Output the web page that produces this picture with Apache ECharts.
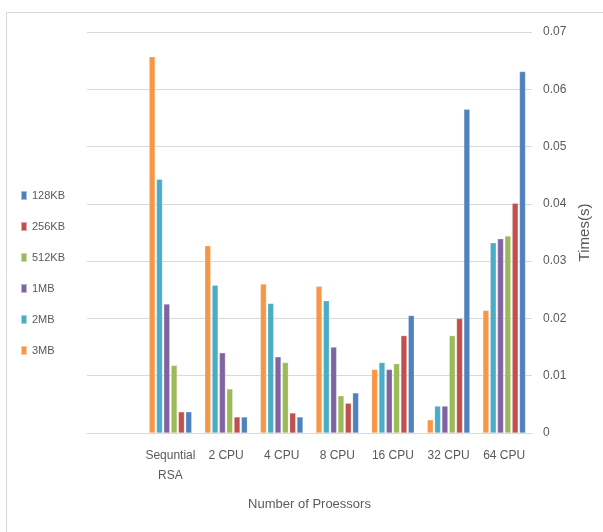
<!DOCTYPE html>
<html>
<head>
<meta charset="utf-8">
<script src="https://cdn.jsdelivr.net/npm/echarts@6/dist/echarts.min.js"></script>
<style>html,body{margin:0;padding:0;background:#fff;}#c{width:603px;height:532px;}</style>
</head>
<body>
<div id="c"></div>
<script>
const categories = ['', 'Sequntial\nRSA', '2 CPU', '4 CPU', '8 CPU', '16 CPU', '32 CPU', '64 CPU'];
const seriesNames = ['3MB', '2MB', '1MB', '512KB', '256KB', '128KB'];
const legendOrder = ['128KB', '256KB', '512KB', '1MB', '2MB', '3MB'];
const yTicks = [0, 0.01, 0.02, 0.03, 0.04, 0.05, 0.06, 0.07];
const v3MB   = [null, 0.0657, 0.0327, 0.0260, 0.0256, 0.0111, 0.0023, 0.0214];
const v2MB   = [null, 0.0443, 0.0258, 0.0226, 0.0231, 0.0123, 0.0047, 0.0332];
const v1MB   = [null, 0.0225, 0.0140, 0.0133, 0.0150, 0.0111, 0.0047, 0.0339];
const v512KB = [null, 0.0118, 0.0077, 0.0123, 0.0065, 0.0121, 0.0170, 0.0344];
const v256KB = [null, 0.0037, 0.0028, 0.0035, 0.0052, 0.0170, 0.0200, 0.0401];
const v128KB = [null, 0.0037, 0.0028, 0.0028, 0.0070, 0.0205, 0.0565, 0.0631];
const seriesData = [v3MB, v2MB, v1MB, v512KB, v256KB, v128KB];
const colors = ['#F79646', '#4BACC6', '#8064A2', '#9BBB59', '#C0504D', '#4F81BD'];

const font = "'Liberation Sans', sans-serif";
const chart = echarts.init(document.getElementById('c'));
chart.setOption({
  animation: false,
  backgroundColor: '#fff',
  textStyle: { fontFamily: font },
  graphic: [
    { type: 'line', shape: { x1: 6.5, y1: 12.5, x2: 603, y2: 12.5 }, style: { stroke: '#d9d9d9', lineWidth: 1 } },
    { type: 'line', shape: { x1: 6.5, y1: 12.5, x2: 6.5, y2: 532 }, style: { stroke: '#d9d9d9', lineWidth: 1 } }
  ],
  legend: {
    orient: 'vertical', left: 15, top: 185,
    data: legendOrder, icon: 'rect', itemWidth: 6, itemHeight: 9, itemGap: 20,
    textStyle: { color: '#595959', fontSize: 11, fontFamily: font }
  },
  grid: { left: 87, right: 71, top: 32, bottom: 99, containLabel: false },
  xAxis: {
    type: 'category', data: categories,
    name: 'Number of Proessors', nameLocation: 'middle', nameGap: 65,
    nameTextStyle: { color: '#595959', fontSize: 13, fontFamily: font },
    axisLine: { lineStyle: { color: '#d9d9d9', width: 1 } },
    axisTick: { show: false },
    axisLabel: { color: '#595959', fontSize: 12, fontFamily: font, margin: 13, interval: 0, lineHeight: 20 }
  },
  yAxis: {
    type: 'value', position: 'right', min: 0, max: 0.07, interval: 0.01,
    name: 'Times(s)', nameLocation: 'middle', nameGap: 40, nameRotate: 90,
    nameTextStyle: { color: '#595959', fontSize: 15, fontFamily: font },
    axisLine: { show: false }, axisTick: { show: false },
    splitLine: { lineStyle: { color: '#d9d9d9', width: 1 } },
    axisLabel: {
      color: '#595959', fontSize: 12, fontFamily: font, margin: 11,
      formatter: function (v) { const t = yTicks.find(x => Math.abs(x - v) < 1e-9); return t === 0 ? '0' : (t !== undefined ? t.toFixed(2) : ''); }
    }
  },
  series: seriesNames.map((n, i) => ({
    name: n, type: 'bar', data: seriesData[i],
    barWidth: 6, barGap: '22%',
    itemStyle: { color: colors[i], borderColor: 'rgba(255,255,255,0.5)', borderWidth: 0.5 }
  }))
});
</script>
</body>
</html>
